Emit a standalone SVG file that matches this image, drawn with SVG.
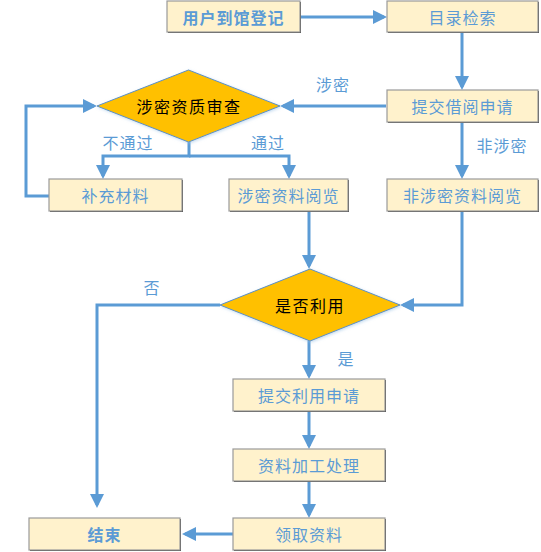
<svg xmlns="http://www.w3.org/2000/svg" width="541" height="552" viewBox="0 0 541 552">
<defs>
<style>
.box rect.sh{fill:#404040;}
.box rect.bd{fill:#FFF2CC;stroke:#9a9a9a;stroke-width:1.2;}
.box text{fill:#5B9BD5;font-family:"Noto Sans CJK SC","Liberation Sans",sans-serif;font-size:16px;letter-spacing:1px;text-anchor:middle;dominant-baseline:central;}
.box text.b{font-weight:bold;}
.dia polygon{fill:#FFC000;stroke:#5B8FC5;stroke-width:1;}
.dia text{fill:#000;font-family:"Noto Sans CJK SC","Liberation Sans",sans-serif;font-size:16px;letter-spacing:1.5px;text-anchor:middle;dominant-baseline:central;}
.lbl{fill:#5B9BD5;font-family:"Noto Sans CJK SC","Liberation Sans",sans-serif;font-size:16px;letter-spacing:1px;text-anchor:middle;dominant-baseline:central;}
.con path{fill:none;stroke:#5B9BD5;stroke-width:3;}
.con path.a{marker-end:url(#arr);}
</style>
<marker id="arr" markerUnits="userSpaceOnUse" viewBox="0 0 14 14" markerWidth="14" markerHeight="14" refX="11" refY="7" orient="auto">
<path d="M0,0 L14,7 L0,14 z" fill="#5B9BD5"/>
</marker>
<filter id="glow" x="-10%" y="-20%" width="120%" height="140%">
<feGaussianBlur in="SourceAlpha" stdDeviation="1.5"/>
<feOffset dx="1" dy="1" result="b"/>
<feFlood flood-color="#9DC3E6" flood-opacity="0.6"/>
<feComposite in2="b" operator="in"/>
<feMerge><feMergeNode/><feMergeNode in="SourceGraphic"/></feMerge>
</filter>
</defs>
<g id="connectors" class="con">
<path class="a" d="M300,17 H384"/>
<path class="a" d="M462,32 V87"/>
<path class="a" d="M386,106 H283"/>
<path class="a" d="M462,122 V176"/>
<path class="a" d="M189,142 V156 H103 V176"/>
<path class="a" d="M189,156 H289 V176"/>
<path class="a" d="M49,196 H26 V106 H94"/>
<path class="a" d="M309,211 V266"/>
<path class="a" d="M462,211 V305 H403"/>
<path class="a" d="M220,305 H97 V505"/>
<path class="a" d="M309,341 V376"/>
<path class="a" d="M309,411 V446"/>
<path class="a" d="M309,481 V515"/>
<path class="a" d="M233,534 H185"/>
</g>
<g id="n_register" class="box"><rect class="sh" x="168" y="2" width="133" height="31"/><rect class="bd" x="167" y="1" width="133" height="31"/><text class="b" x="233.5" y="16.5">用户到馆登记</text></g>
<g id="n_search" class="box"><rect class="sh" x="388" y="2" width="151" height="31"/><rect class="bd" x="387" y="1" width="151" height="31"/><text x="462.5" y="16.5">目录检索</text></g>
<g id="n_borrow" class="box"><rect class="sh" x="388" y="91" width="151" height="32"/><rect class="bd" x="387" y="90" width="151" height="32"/><text x="462.5" y="106">提交借阅申请</text></g>
<g id="n_nonsecret" class="box"><rect class="sh" x="388" y="180" width="151" height="32"/><rect class="bd" x="387" y="179" width="151" height="32"/><text x="462.5" y="195">非涉密资料阅览</text></g>
<g id="n_supplement" class="box"><rect class="sh" x="50" y="180" width="133" height="32"/><rect class="bd" x="49" y="179" width="133" height="32"/><text x="115.5" y="195">补充材料</text></g>
<g id="n_secret" class="box"><rect class="sh" x="230" y="180" width="119" height="32"/><rect class="bd" x="229" y="179" width="119" height="32"/><text x="288.5" y="195">涉密资料阅览</text></g>
<g id="n_apply" class="box"><rect class="sh" x="234" y="380" width="152" height="32"/><rect class="bd" x="233" y="379" width="152" height="32"/><text x="309" y="395">提交利用申请</text></g>
<g id="n_process" class="box"><rect class="sh" x="234" y="450" width="152" height="32"/><rect class="bd" x="233" y="449" width="152" height="32"/><text x="309" y="465">资料加工处理</text></g>
<g id="n_receive" class="box"><rect class="sh" x="234" y="519" width="152" height="32"/><rect class="bd" x="233" y="518" width="152" height="32"/><text x="309" y="534">领取资料</text></g>
<g id="n_end" class="box"><rect class="sh" x="30" y="519" width="151" height="32"/><rect class="bd" x="29" y="518" width="151" height="32"/><text class="b" x="104.5" y="534">结束</text></g>
<g id="n_review" class="dia"><polygon points="188.5,70 280,106 188.5,142 97,106" filter="url(#glow)"/><text x="189" y="106">涉密资质审查</text></g>
<g id="n_use" class="dia"><polygon points="310,269 400,305 310,341 220,305" filter="url(#glow)"/><text x="310" y="305">是否利用</text></g>
<g id="labels">
<text class="lbl" x="333" y="84">涉密</text>
<text class="lbl" x="502" y="145">非涉密</text>
<text class="lbl" x="128" y="142">不通过</text>
<text class="lbl" x="268" y="142">通过</text>
<text class="lbl" x="152" y="287">否</text>
<text class="lbl" x="346" y="358">是</text>
</g>
</svg>
